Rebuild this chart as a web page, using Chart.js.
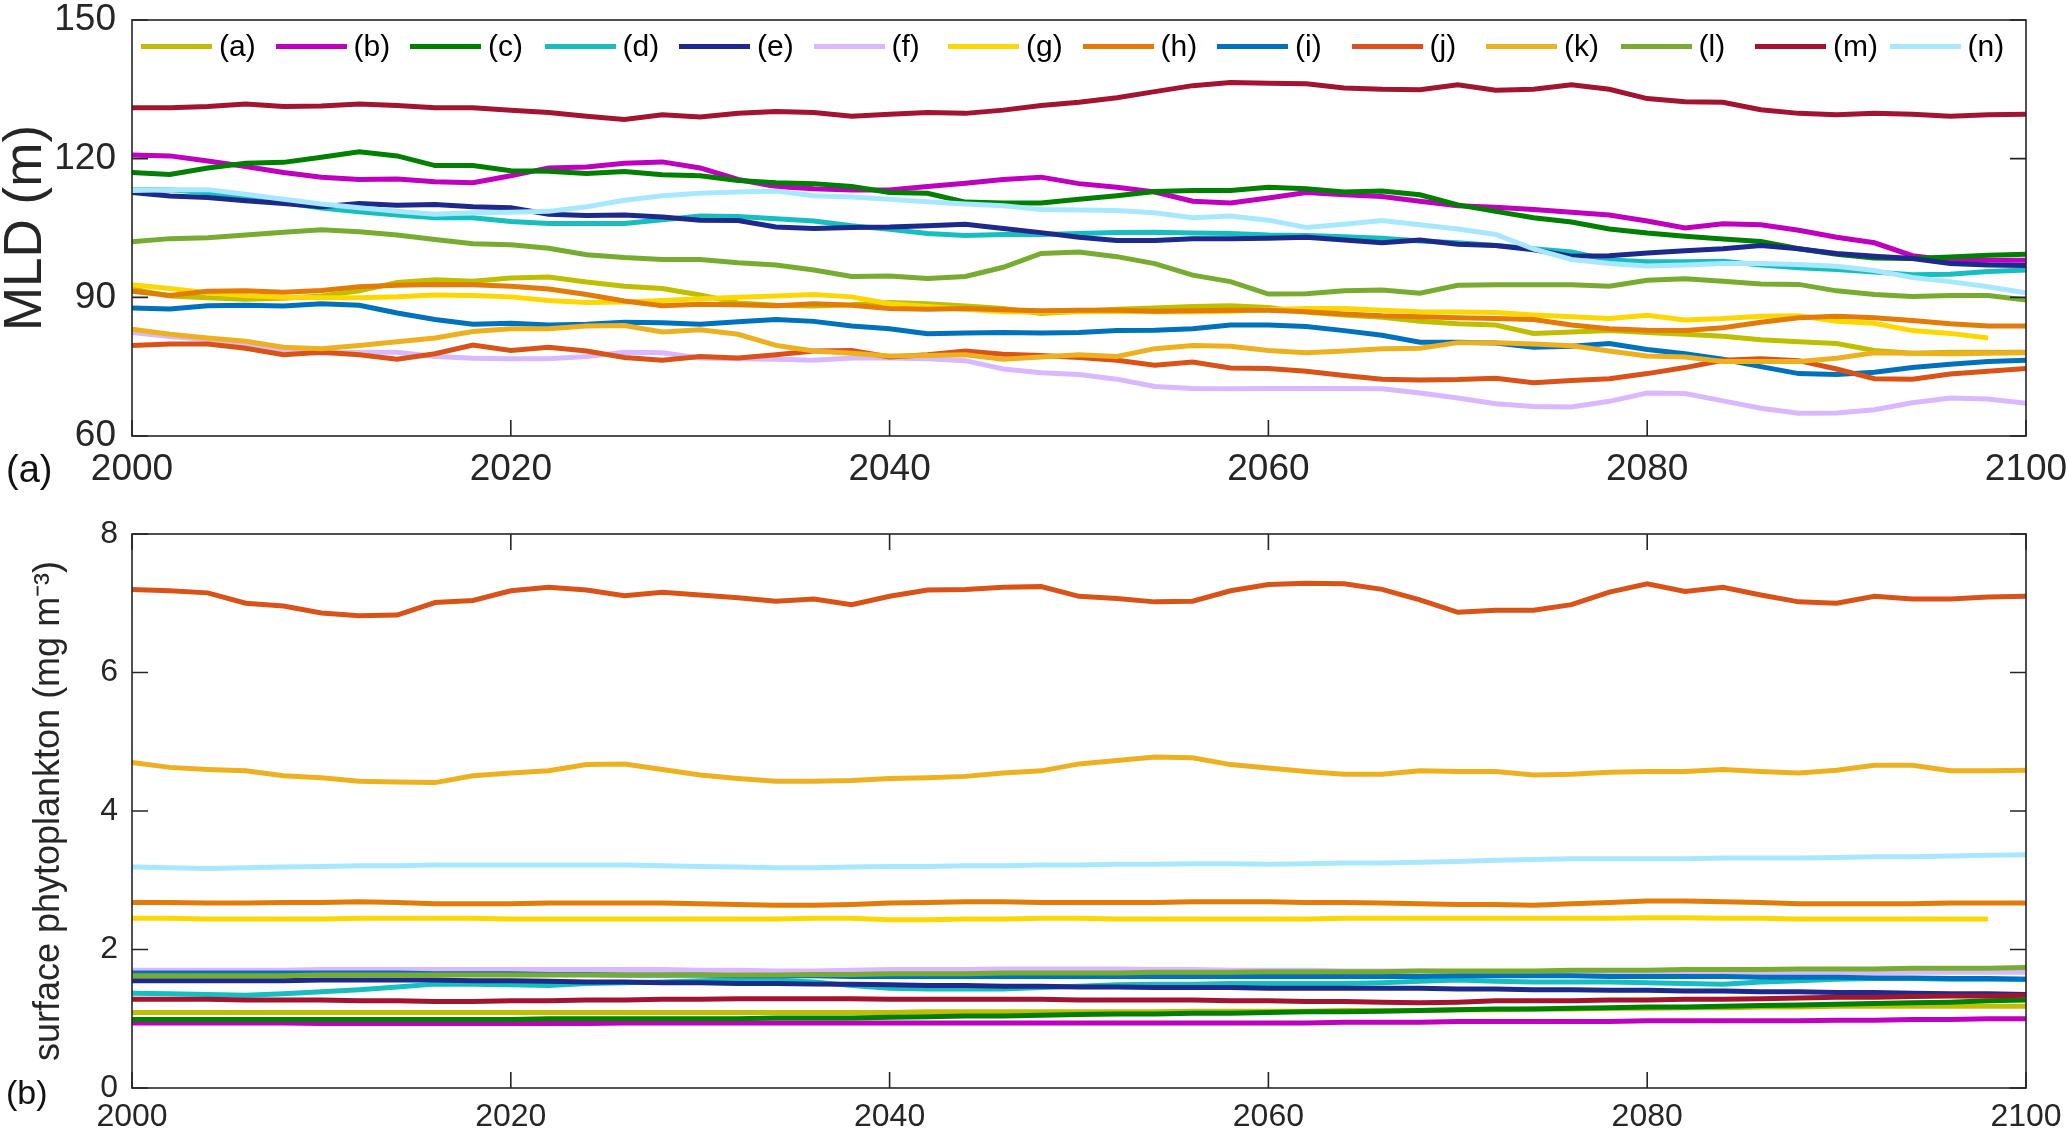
<!DOCTYPE html>
<html>
<head>
<meta charset="utf-8">
<title>MLD and surface phytoplankton</title>
<script src="https://cdn.jsdelivr.net/npm/chart.js@4.4.1/dist/chart.umd.min.js"></script>
<style>
  html, body { margin: 0; padding: 0; background: #fff; }
  body { width: 2067px; height: 1138px; position: relative; overflow: hidden;
         font-family: "Liberation Sans", Arial, Helvetica, sans-serif; }
  canvas { position: absolute; left: 0; }
  #mldChart { top: 0; }
  #phyChart { top: 500px; }
  .panel-tag { position: absolute; left: 6px; line-height: 1; color: #111; }
  #legend { position: absolute; left: 141px; top: 29px; display: flex; }
  #legend .item { width: 134.5px; display: flex; align-items: center; font-size: 30px;
                  line-height: 34px; color: #000; white-space: nowrap; }
  #legend .swatch { width: 71px; height: 5px; margin-right: 7px; }
</style>
</head>
<body>
<canvas id="mldChart" width="2067" height="500"></canvas>
<canvas id="phyChart" width="2067" height="638"></canvas>
<div id="legend"></div>
<div class="panel-tag" style="top:450px;font-size:38px">(a)</div>
<div class="panel-tag" style="top:1075px;font-size:34px">(b)</div>
<script>
// ---- data ----
const years = [2000, 2002, 2004, 2006, 2008, 2010, 2012, 2014, 2016, 2018,
  2020, 2022, 2024, 2026, 2028, 2030, 2032, 2034, 2036, 2038,
  2040, 2042, 2044, 2046, 2048, 2050, 2052, 2054, 2056, 2058,
  2060, 2062, 2064, 2066, 2068, 2070, 2072, 2074, 2076, 2078,
  2080, 2082, 2084, 2086, 2088, 2090, 2092, 2094, 2096, 2098, 2100];

const seriesNames = ['(a)', '(b)', '(c)', '(d)', '(e)', '(f)', '(g)',
  '(h)', '(i)', '(j)', '(k)', '(l)', '(m)', '(n)'];
const seriesColors = ['#BFBF00', '#BF00BF', '#008000', '#17BEBF', '#1B2A8B',
  '#D9B8FF', '#FFD700', '#E37C06', '#0072BD', '#D95319', '#EDB120',
  '#77AC30', '#A2142F', '#A8E8FF'];

const yearTicks = [2000, 2020, 2040, 2060, 2080, 2100];
const mldTicks = [60, 90, 120, 150];
const phyTicks = [0, 2, 4, 6, 8];

// mixed layer depth (m)
const mldA = [91.8, 90.3, 89.9, 89.6, 89.8, 90.3, 91.4, 93.2, 93.8, 93.5, 94.2, 94.4, 93.3, 92.4, 91.9, 90.5,
  88.8, 88.3, 88.1, 88.4, 88.9, 88.6, 88.1, 87.6, 86.5, 87.0, 87.4, 87.7, 88.0, 88.2, 87.8, 86.8,
  86.2, 85.7, 84.8, 84.3, 84.0, 82.2, 82.5, 82.8, 82.4, 82.0, 81.6, 80.8, 80.4, 80.0, 78.5, 77.9,
  78.1, 78.1, 78.1];
const mldB = [120.8, 120.6, 119.5, 118.3, 117, 116, 115.5, 115.6, 115, 114.8, 116.3, 118, 118.2, 119, 119.3, 118,
  115.5, 114, 113.5, 113.2, 113.2, 114, 114.7, 115.5, 116, 114.6, 113.8, 112.8, 110.8, 110.4, 111.5, 112.7,
  112.2, 111.8, 110.8, 109.8, 109.5, 109, 108.4, 107.8, 106.5, 105, 105.9, 105.7, 104.5, 103, 101.8, 99,
  98, 98, 98];
const mldC = [117, 116.6, 118, 119, 119.2, 120.3, 121.5, 120.6, 118.5, 118.5, 117.4, 117.3, 116.8, 117.2, 116.5, 116.3,
  115.3, 114.8, 114.6, 114, 112.7, 112.5, 110.6, 110.4, 110.4, 111.2, 112, 112.9, 113.1, 113.1, 113.8, 113.5,
  112.8, 113, 112.2, 110, 108.6, 107.2, 106.3, 104.8, 103.9, 103.2, 102.6, 102.1, 100.5, 99.3, 98.5, 98.4,
  98.7, 99.1, 99.3];
const mldD = [113.2, 113.3, 112.6, 111.8, 110.5, 109.3, 108.5, 107.8, 107.2, 107.2, 106.4, 106, 106, 106, 106.8, 107.6,
  107.5, 107, 106.5, 105.5, 104.7, 103.8, 103.4, 103.6, 103.6, 103.8, 104, 104.1, 103.9, 103.8, 103.5, 103.4,
  103.1, 102.8, 102.2, 101.8, 101.2, 100.5, 99.8, 98.1, 97.7, 97.7, 97.8, 97, 96.4, 96, 95.5, 94.9,
  95, 95.6, 95.9];
const mldE = [112.7, 111.9, 111.6, 110.9, 110.3, 109.6, 110.3, 109.9, 110.1, 109.6, 109.4, 108, 107.7, 107.8, 107.4, 106.7,
  106.6, 105.2, 104.9, 105.1, 105.2, 105.5, 105.8, 104.9, 104, 103, 102.3, 102.3, 102.7, 102.7, 102.8, 103,
  102.4, 101.8, 102.4, 101.5, 101.2, 100.3, 98.9, 99, 99.6, 100.1, 100.5, 101.2, 100.5, 99.5, 98.9, 98.4,
  97.3, 97, 96.9];
const mldF = [82.4, 81.5, 80.8, 79.8, 78.4, 77.9, 78.1, 78.1, 77.2, 76.8, 76.7, 76.7, 77.2, 78.1, 78, 76.9,
  76.7, 76.6, 76.4, 76.9, 76.9, 76.7, 76.3, 74.5, 73.7, 73.3, 72.3, 70.7, 70.3, 70.2, 70.3, 70.3,
  70.3, 70.2, 69.3, 68.2, 67, 66.4, 66.3, 67.5, 69.3, 69.2, 67.6, 66, 64.9, 65, 65.7, 67.2,
  68.2, 68, 67.1];
const mldG = [92.7, 91.9, 91, 90.4, 90, 89.9, 89.9, 90.1, 90.5, 90.4, 90.1, 89.3, 88.9, 89, 89.3, 89.7,
  90, 90.3, 90.6, 90.1, 88.6, 88, 87.4, 86.9, 86.8, 86.9, 87, 86.9, 86.9, 87, 87.3, 87.6,
  87.6, 87.2, 86.9, 86.8, 86.7, 86.2, 85.8, 85.4, 86.1, 85.1, 85.4, 85.9, 86, 84.8, 84.4, 82.8,
  82.2, 81.2, null];
const mldH = [91.3, 90.4, 91.3, 91.4, 91.1, 91.5, 92.3, 92.6, 92.8, 92.7, 92.4, 91.8, 90.6, 89.2, 88.2, 88.5,
  88.4, 88.2, 88.6, 88.3, 87.6, 87.4, 87.6, 87.3, 87.1, 87.2, 87.2, 87, 87.1, 87.2, 87.2, 86.9,
  86.4, 86, 85.8, 85.6, 85.4, 85.2, 84, 83.2, 82.9, 82.8, 83.4, 84.6, 85.6, 85.9, 85.6, 85,
  84.3, 83.8, 83.8];
const mldI = [87.7, 87.5, 88.2, 88.3, 88.1, 88.6, 88.3, 86.6, 85.2, 84.2, 84.4, 84, 84.2, 84.6, 84.5, 84.2,
  84.7, 85.2, 84.8, 83.8, 83.2, 82.1, 82.3, 82.4, 82.3, 82.4, 82.8, 82.9, 83.2, 84, 84, 83.7,
  82.8, 81.8, 80.3, 80.3, 80.1, 79.2, 79.4, 80, 78.7, 77.8, 76.6, 75, 73.5, 73.3, 73.8, 74.8,
  75.5, 76.1, 76.4];
const mldJ = [79.6, 79.9, 79.9, 79, 77.6, 78.1, 77.6, 76.6, 77.8, 79.7, 78.5, 79.2, 78.4, 77, 76.4, 77.2,
  76.9, 77.6, 78.4, 78.5, 77.1, 77.6, 78.4, 77.7, 77.4, 77, 76.4, 75.3, 76, 74.7, 74.6, 74,
  73.1, 72.3, 72.1, 72.2, 72.5, 71.5, 72, 72.4, 73.5, 74.8, 76.4, 76.7, 76.3, 74.5, 72.4, 72.3,
  73.4, 74, 74.6];
const mldK = [83.1, 82, 81.2, 80.5, 79.2, 78.9, 79.6, 80.4, 81.2, 82.6, 83.2, 83.2, 83.8, 83.9, 82.5, 83,
  82, 79.6, 78.4, 77.9, 77.3, 77.4, 77.6, 76.6, 77.1, 77.6, 77.2, 78.9, 79.6, 79.4, 78.5, 78,
  78.4, 78.9, 79, 80.2, 80.2, 79.9, 79.5, 78.4, 77.3, 77.1, 76.1, 76.1, 76.1, 76.8, 78, 77.9,
  77.8, 77.9, 78];
const mldL = [102, 102.7, 102.9, 103.5, 104.1, 104.6, 104.2, 103.5, 102.5, 101.6, 101.4, 100.6, 99.2, 98.6, 98.2, 98.2,
  97.5, 97, 95.9, 94.5, 94.6, 94.1, 94.5, 96.5, 99.5, 99.8, 98.8, 97.3, 94.8, 93.4, 90.7, 90.8,
  91.4, 91.6, 90.9, 92.6, 92.7, 92.7, 92.7, 92.4, 93.7, 94, 93.5, 92.9, 92.8, 91.4, 90.6, 90.2,
  90.4, 90.4, 89.4];
const mldM = [131, 131, 131.3, 131.8, 131.3, 131.4, 131.8, 131.5, 131, 131, 130.5, 130, 129.2, 128.5, 129.5, 129,
  129.8, 130.2, 130, 129.2, 129.6, 130, 129.8, 130.5, 131.5, 132.2, 133.2, 134.5, 135.8, 136.5, 136.3, 136.2,
  135.3, 135, 134.9, 136, 134.8, 135, 136, 135, 133, 132.3, 132.2, 130.6, 129.8, 129.5, 129.8, 129.6,
  129.2, 129.5, 129.6];
const mldN = [113.1, 113.3, 113.3, 112.3, 111.2, 110.2, 109.4, 108.6, 108, 108.3, 108.4, 108.6, 109.6, 111, 112, 112.5,
  112.8, 113, 112, 111.7, 111.2, 110.7, 110.2, 109.8, 109, 108.9, 108.8, 108.3, 107.2, 107.6, 106.7, 105.1,
  105.8, 106.6, 105.7, 104.8, 103.6, 100.5, 98.2, 97.3, 96.8, 97, 97.3, 97.3, 97.1, 96.7, 95.8, 94.3,
  93.4, 92.3, 91];

// surface phytoplankton (mg m-3)
const phyA = [1.09, 1.09, 1.09, 1.09, 1.09, 1.09, 1.09, 1.09, 1.09, 1.09, 1.09, 1.09, 1.09, 1.09, 1.09, 1.09,
  1.09, 1.09, 1.09, 1.09, 1.09, 1.1, 1.1, 1.1, 1.1, 1.1, 1.1, 1.1, 1.11, 1.11, 1.11, 1.11,
  1.12, 1.12, 1.12, 1.13, 1.13, 1.14, 1.14, 1.15, 1.15, 1.16, 1.16, 1.17, 1.17, 1.18, 1.18, 1.18,
  1.18, 1.18, 1.18];
const phyB = [0.94, 0.94, 0.94, 0.94, 0.94, 0.93, 0.93, 0.93, 0.93, 0.93, 0.93, 0.93, 0.93, 0.94, 0.94, 0.94,
  0.94, 0.94, 0.94, 0.94, 0.94, 0.94, 0.94, 0.94, 0.94, 0.94, 0.94, 0.94, 0.94, 0.94, 0.94, 0.94,
  0.95, 0.95, 0.95, 0.96, 0.96, 0.96, 0.96, 0.96, 0.97, 0.97, 0.97, 0.97, 0.97, 0.98, 0.98, 0.99,
  0.99, 1.0, 1.0];
const phyC = [0.99, 0.99, 0.99, 0.99, 0.99, 0.99, 0.99, 0.99, 0.99, 0.99, 0.99, 1.0, 1.0, 1.0, 1.0, 1.0,
  1.0, 1.01, 1.01, 1.01, 1.02, 1.03, 1.04, 1.04, 1.05, 1.06, 1.07, 1.07, 1.08, 1.08, 1.09, 1.1,
  1.1, 1.11, 1.12, 1.13, 1.14, 1.14, 1.15, 1.16, 1.17, 1.17, 1.18, 1.19, 1.2, 1.21, 1.22, 1.23,
  1.24, 1.26, 1.27];
const phyD = [1.37, 1.36, 1.35, 1.34, 1.36, 1.39, 1.42, 1.46, 1.5, 1.5, 1.49, 1.48, 1.51, 1.52, 1.53, 1.55,
  1.56, 1.56, 1.53, 1.48, 1.44, 1.43, 1.43, 1.43, 1.45, 1.47, 1.49, 1.5, 1.5, 1.51, 1.51, 1.51,
  1.51, 1.52, 1.54, 1.56, 1.54, 1.53, 1.53, 1.53, 1.52, 1.51, 1.5, 1.53, 1.55, 1.57, 1.58, 1.58,
  1.57, 1.57, 1.57];
const phyE = [1.55, 1.55, 1.55, 1.55, 1.55, 1.56, 1.56, 1.56, 1.56, 1.55, 1.55, 1.54, 1.53, 1.53, 1.52, 1.52,
  1.51, 1.51, 1.5, 1.5, 1.49, 1.48, 1.48, 1.47, 1.47, 1.46, 1.46, 1.45, 1.45, 1.45, 1.44, 1.44,
  1.44, 1.44, 1.44, 1.43, 1.43, 1.42, 1.42, 1.41, 1.41, 1.4, 1.4, 1.39, 1.39, 1.38, 1.38, 1.37,
  1.36, 1.36, 1.35];
const phyF = [1.7, 1.7, 1.7, 1.7, 1.7, 1.71, 1.71, 1.71, 1.71, 1.71, 1.71, 1.71, 1.71, 1.71, 1.71, 1.7,
  1.7, 1.69, 1.69, 1.7, 1.71, 1.71, 1.71, 1.72, 1.72, 1.72, 1.72, 1.71, 1.71, 1.7, 1.7, 1.7,
  1.69, 1.69, 1.69, 1.68, 1.68, 1.68, 1.67, 1.67, 1.67, 1.67, 1.66, 1.66, 1.66, 1.66, 1.66, 1.67,
  1.67, 1.67, 1.67];
const phyG = [2.45, 2.45, 2.44, 2.44, 2.44, 2.44, 2.45, 2.45, 2.45, 2.45, 2.44, 2.44, 2.44, 2.44, 2.44, 2.44,
  2.44, 2.44, 2.45, 2.45, 2.43, 2.43, 2.44, 2.44, 2.45, 2.45, 2.44, 2.44, 2.44, 2.44, 2.44, 2.44,
  2.45, 2.45, 2.45, 2.45, 2.45, 2.45, 2.45, 2.45, 2.46, 2.46, 2.45, 2.45, 2.44, 2.44, 2.44, 2.44,
  2.44, 2.44, null];
const phyH = [2.68, 2.68, 2.67, 2.67, 2.68, 2.68, 2.69, 2.68, 2.66, 2.66, 2.66, 2.67, 2.67, 2.67, 2.67, 2.66,
  2.65, 2.64, 2.64, 2.65, 2.67, 2.68, 2.69, 2.69, 2.68, 2.68, 2.68, 2.68, 2.69, 2.69, 2.69, 2.68,
  2.68, 2.67, 2.66, 2.65, 2.65, 2.64, 2.66, 2.68, 2.7, 2.7, 2.69, 2.68, 2.66, 2.66, 2.66, 2.66,
  2.67, 2.67, 2.67];
const phyI = [1.66, 1.66, 1.66, 1.66, 1.66, 1.66, 1.66, 1.66, 1.65, 1.65, 1.65, 1.64, 1.64, 1.63, 1.63, 1.63,
  1.62, 1.62, 1.62, 1.61, 1.61, 1.61, 1.61, 1.61, 1.61, 1.61, 1.61, 1.61, 1.61, 1.61, 1.61, 1.61,
  1.61, 1.61, 1.61, 1.62, 1.62, 1.62, 1.62, 1.61, 1.61, 1.61, 1.61, 1.6, 1.6, 1.6, 1.59, 1.59,
  1.58, 1.58, 1.57];
const phyJ = [7.2, 7.18, 7.15, 7.0, 6.96, 6.86, 6.82, 6.83, 7.01, 7.04, 7.18, 7.23, 7.19, 7.11, 7.16, 7.12,
  7.08, 7.03, 7.06, 6.98, 7.1, 7.19, 7.2, 7.23, 7.24, 7.1, 7.07, 7.02, 7.03, 7.18, 7.27, 7.29,
  7.28, 7.2, 7.05, 6.87, 6.9, 6.9, 6.98, 7.16, 7.28, 7.17, 7.23, 7.12, 7.02, 7.0, 7.1, 7.06,
  7.06, 7.09, 7.1];
const phyK = [4.7, 4.63, 4.6, 4.58, 4.51, 4.48, 4.43, 4.42, 4.41, 4.51, 4.55, 4.58, 4.67, 4.68, 4.6, 4.52,
  4.47, 4.43, 4.43, 4.44, 4.47, 4.48, 4.5, 4.55, 4.58, 4.68, 4.73, 4.78, 4.77, 4.67, 4.62, 4.57,
  4.53, 4.53, 4.58, 4.57, 4.57, 4.52, 4.53, 4.56, 4.57, 4.57, 4.6, 4.57, 4.55, 4.59, 4.66, 4.66,
  4.58, 4.58, 4.59];
const phyL = [1.62, 1.62, 1.62, 1.62, 1.62, 1.63, 1.63, 1.63, 1.63, 1.63, 1.63, 1.63, 1.63, 1.63, 1.63, 1.63,
  1.63, 1.63, 1.64, 1.64, 1.65, 1.65, 1.65, 1.66, 1.66, 1.66, 1.66, 1.67, 1.67, 1.67, 1.68, 1.68,
  1.68, 1.68, 1.69, 1.69, 1.69, 1.69, 1.7, 1.7, 1.7, 1.71, 1.71, 1.71, 1.72, 1.72, 1.72, 1.73,
  1.73, 1.73, 1.74];
const phyM = [1.28, 1.28, 1.28, 1.27, 1.27, 1.27, 1.26, 1.26, 1.25, 1.25, 1.26, 1.26, 1.27, 1.27, 1.28, 1.28,
  1.29, 1.29, 1.29, 1.29, 1.28, 1.28, 1.28, 1.28, 1.28, 1.27, 1.27, 1.27, 1.27, 1.26, 1.26, 1.25,
  1.25, 1.24, 1.23, 1.24, 1.26, 1.26, 1.26, 1.27, 1.27, 1.28, 1.28, 1.29, 1.3, 1.31, 1.31, 1.32,
  1.33, 1.33, 1.34];
const phyN = [3.19, 3.18, 3.17, 3.18, 3.19, 3.2, 3.21, 3.21, 3.22, 3.22, 3.22, 3.22, 3.22, 3.22, 3.21, 3.2,
  3.19, 3.18, 3.18, 3.19, 3.2, 3.2, 3.21, 3.21, 3.22, 3.22, 3.23, 3.23, 3.24, 3.24, 3.23, 3.24,
  3.25, 3.25, 3.26, 3.27, 3.29, 3.3, 3.31, 3.31, 3.31, 3.31, 3.32, 3.32, 3.32, 3.33, 3.34, 3.34,
  3.35, 3.36, 3.37];

const mldSeries = [mldA, mldB, mldC, mldD, mldE, mldF, mldG, mldH, mldI, mldJ, mldK, mldL, mldM, mldN];
const phySeries = [phyA, phyB, phyC, phyD, phyE, phyF, phyG, phyH, phyI, phyJ, phyK, phyL, phyM, phyN];

// ---- legend (one row inside the top panel) ----
const legendEl = document.getElementById('legend');
seriesNames.forEach((name, i) => {
  const item = document.createElement('div');
  item.className = 'item';
  const sw = document.createElement('span');
  sw.className = 'swatch';
  sw.style.background = seriesColors[i];
  item.appendChild(sw);
  item.appendChild(document.createTextNode(name));
  legendEl.appendChild(item);
});

// ---- chart setup ----
Chart.defaults.font.family = '"Liberation Sans", Arial, Helvetica, sans-serif';
Chart.defaults.color = '#262626';

// box round the plot with inward tick marks
const matlabBox = {
  id: 'matlabBox',
  afterDatasetsDraw(chart, args, opts) {
    const { ctx, chartArea: a } = chart;
    const xs = chart.scales.x;
    const ys = chart.scales.y;
    const len = opts.tickLength || 16;
    ctx.save();
    ctx.strokeStyle = '#262626';
    ctx.lineWidth = 1.6;
    ctx.beginPath();
    xs.ticks.forEach(t => {
      const px = xs.getPixelForValue(t.value);
      ctx.moveTo(px, a.bottom);
      ctx.lineTo(px, a.bottom - len);
      if (opts.topTicks) {
        ctx.moveTo(px, a.top);
        ctx.lineTo(px, a.top + len);
      }
    });
    ys.ticks.forEach(t => {
      const py = ys.getPixelForValue(t.value);
      ctx.moveTo(a.left, py);
      ctx.lineTo(a.left + len, py);
      ctx.moveTo(a.right, py);
      ctx.lineTo(a.right - len, py);
    });
    ctx.stroke();
    ctx.strokeRect(a.left, a.top, a.right - a.left, a.bottom - a.top);
    ctx.restore();
  }
};

function makeDatasets(values) {
  return values.map((vals, i) => ({
    label: seriesNames[i],
    data: years.map((yr, k) => ({ x: yr, y: vals[k] })),
    borderColor: seriesColors[i],
    backgroundColor: seriesColors[i],
    borderWidth: 5,
    pointRadius: 0,
    tension: 0,
    order: seriesNames.length - i   // later series drawn on top
  }));
}

function xAxis(fontSize, pad, height) {
  return {
    type: 'linear',
    min: 2000,
    max: 2100,
    grid: { display: false, drawTicks: false },
    border: { display: false },
    ticks: { font: { size: fontSize }, padding: pad, maxRotation: 0, color: '#262626',
             callback: v => String(v) },
    afterBuildTicks: s => { s.ticks = yearTicks.map(v => ({ value: v })); },
    afterFit: s => { s.height = height; s.paddingLeft = 0; s.paddingRight = 0; }
  };
}

function yAxis(min, max, tickList, fontSize, pad, title) {
  return {
    min: min,
    max: max,
    grid: { display: false, drawTicks: false },
    border: { display: false },
    ticks: { font: { size: fontSize }, padding: pad, color: '#262626' },
    afterBuildTicks: s => { s.ticks = tickList.map(v => ({ value: v })); },
    afterFit: s => { s.width = 132; s.paddingTop = 0; s.paddingBottom = 0; },
    title: title
  };
}

// (a) mixed layer depth
new Chart(document.getElementById('mldChart'), {
  type: 'line',
  data: { datasets: makeDatasets(mldSeries) },
  options: {
    responsive: false,
    animation: false,
    devicePixelRatio: 1,
    layout: { padding: { top: 20, right: 41, left: 0, bottom: 0 } },
    plugins: {
      legend: { display: false },
      tooltip: { enabled: false },
      matlabBox: { tickLength: 16, topTicks: false }
    },
    scales: {
      x: xAxis(37, 12, 64),
      y: yAxis(60, 150, mldTicks, 37, 16,
        { display: true, text: 'MLD (m)', color: '#262626',
          font: { size: 53, lineHeight: 1 }, padding: 0 })
    }
  },
  plugins: [matlabBox]
});

// (b) surface phytoplankton
new Chart(document.getElementById('phyChart'), {
  type: 'line',
  data: { datasets: makeDatasets(phySeries) },
  options: {
    responsive: false,
    animation: false,
    devicePixelRatio: 1,
    layout: { padding: { top: 34, right: 41, left: 0, bottom: 0 } },
    plugins: {
      legend: { display: false },
      tooltip: { enabled: false },
      matlabBox: { tickLength: 16, topTicks: true }
    },
    scales: {
      x: xAxis(32, 10, 50),
      y: yAxis(0, 8, phyTicks, 32, 14,
        { display: true, text: 'surface phytoplankton (mg m\u207B\u00B3)', color: '#262626',
          font: { size: 36, lineHeight: 1 }, padding: { top: 31, bottom: 0 } })
    }
  },
  plugins: [matlabBox]
});
</script>
</body>
</html>
